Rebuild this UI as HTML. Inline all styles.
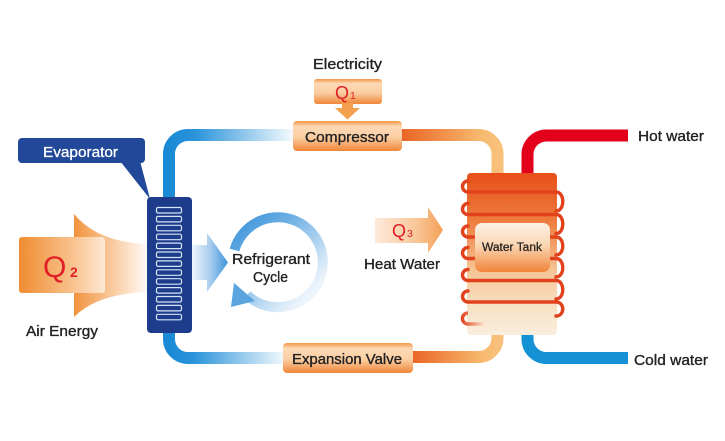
<!DOCTYPE html>
<html><head><meta charset="utf-8"><style>
html,body{margin:0;padding:0;background:#fff;}
svg{display:block;}
text{font-family:"Liberation Sans",sans-serif;}
.lb{font-size:15px;fill:#222;stroke:#222;stroke-width:0.35px;}
</style></head><body>
<svg width="725" height="441" viewBox="0 0 725 441" xmlns="http://www.w3.org/2000/svg">
<defs>
<linearGradient id="gBlueTop" gradientUnits="userSpaceOnUse" x1="169" y1="0" x2="298" y2="0">
<stop offset="0" stop-color="#1a8ad6"/><stop offset="0.2" stop-color="#2a93da"/><stop offset="1" stop-color="#ffffff"/></linearGradient>
<linearGradient id="gBlueBot" gradientUnits="userSpaceOnUse" x1="169" y1="0" x2="290" y2="0">
<stop offset="0" stop-color="#1a8ad6"/><stop offset="0.2" stop-color="#2a93da"/><stop offset="1" stop-color="#ffffff"/></linearGradient>
<linearGradient id="gOrTop" gradientUnits="userSpaceOnUse" x1="402" y1="0" x2="497" y2="0">
<stop offset="0" stop-color="#ea6526"/><stop offset="0.85" stop-color="#f7bb70"/><stop offset="1" stop-color="#f8c07a"/></linearGradient>
<linearGradient id="gOrBot" gradientUnits="userSpaceOnUse" x1="412" y1="0" x2="497" y2="0">
<stop offset="0" stop-color="#ea6526"/><stop offset="0.85" stop-color="#f7bb70"/><stop offset="1" stop-color="#f8c07a"/></linearGradient>
<linearGradient id="gBox" x1="0" y1="0" x2="0" y2="1">
<stop offset="0" stop-color="#f39546"/><stop offset="0.18" stop-color="#fdd9b6"/><stop offset="0.55" stop-color="#fbcea2"/><stop offset="1" stop-color="#f08638"/></linearGradient>
<linearGradient id="gFlare" gradientUnits="userSpaceOnUse" x1="74" y1="0" x2="150" y2="0">
<stop offset="0" stop-color="#f2923c"/><stop offset="0.45" stop-color="#f8c494"/><stop offset="1" stop-color="#ffffff"/></linearGradient>
<linearGradient id="gQ2" x1="0" y1="0" x2="1" y2="0">
<stop offset="0" stop-color="#f08c32"/><stop offset="0.6" stop-color="#f8c08a"/><stop offset="1" stop-color="#fde8d4"/></linearGradient>
<linearGradient id="gQ3" gradientUnits="userSpaceOnUse" x1="375" y1="0" x2="443" y2="0">
<stop offset="0" stop-color="#fdeadb"/><stop offset="0.6" stop-color="#f9c79a"/><stop offset="1" stop-color="#f4a056"/></linearGradient>
<linearGradient id="gBArr" gradientUnits="userSpaceOnUse" x1="192" y1="0" x2="228" y2="0">
<stop offset="0" stop-color="#eef5fc"/><stop offset="0.5" stop-color="#a9cdee"/><stop offset="1" stop-color="#3c93da"/></linearGradient>
<linearGradient id="gRing" gradientUnits="userSpaceOnUse" x1="228" y1="212" x2="328" y2="313">
<stop offset="0" stop-color="#2f8cd7"/><stop offset="0.35" stop-color="#6fb0e4"/><stop offset="0.8" stop-color="#eaf3fb"/><stop offset="1" stop-color="#ffffff"/></linearGradient>
<linearGradient id="gTank" x1="0" y1="0" x2="0" y2="1">
<stop offset="0" stop-color="#e74f18"/><stop offset="0.3" stop-color="#ee7d3e"/><stop offset="0.6" stop-color="#f6c495"/><stop offset="0.82" stop-color="#f8e0c3"/><stop offset="1" stop-color="#faeedd"/></linearGradient>
<linearGradient id="gInner" x1="0" y1="0" x2="0" y2="1">
<stop offset="0" stop-color="#fdf1e4"/><stop offset="0.45" stop-color="#fbd7b4"/><stop offset="1" stop-color="#f0843a"/></linearGradient>
<linearGradient id="gFade" gradientUnits="userSpaceOnUse" x1="462" y1="0" x2="485" y2="0">
<stop offset="0" stop-color="#e2421b"/><stop offset="1" stop-color="#e2421b" stop-opacity="0"/></linearGradient>
</defs>

<!-- pipes -->
<path d="M169,200 V154 A19 19 0 0 1 188 135 H298" fill="none" stroke="url(#gBlueTop)" stroke-width="12"/>
<path d="M169,330 V339 A19 19 0 0 0 188 358 H290" fill="none" stroke="url(#gBlueBot)" stroke-width="12"/>
<path d="M400,135 H478 A19 19 0 0 1 497.5 154 V178" fill="none" stroke="url(#gOrTop)" stroke-width="12"/>
<path d="M497.5,332 V338 A19 19 0 0 1 478 357 H410" fill="none" stroke="url(#gOrBot)" stroke-width="12"/>
<path d="M527.5,178 V154 A19 19 0 0 1 547 135.5 H628" fill="none" stroke="#e2001a" stroke-width="12"/>
<path d="M527.5,332 V339 A19 19 0 0 0 547 358 H628" fill="none" stroke="#1592d6" stroke-width="12"/>

<!-- Q1 -->
<rect x="314" y="79" width="68" height="25" rx="3" fill="url(#gBox)"/>
<rect x="342" y="103" width="11" height="6" fill="#f3a04f"/>
<polygon points="335,108 360,108 347.5,119.5" fill="#f3a04f"/>
<text x="335" y="99" font-size="18" fill="#e01f26">Q</text>
<text x="350" y="99" font-size="10.5" fill="#e01f26">1</text>
<text x="313" y="69" class="lb" font-size="14" textLength="69" lengthAdjust="spacingAndGlyphs">Electricity</text>

<!-- compressor -->
<rect x="293" y="121" width="109" height="30" rx="4" fill="url(#gBox)"/>
<text x="305" y="142" class="lb" textLength="84" lengthAdjust="spacingAndGlyphs">Compressor</text>

<!-- expansion valve -->
<rect x="283" y="343" width="130" height="30" rx="4" fill="url(#gBox)"/>
<text x="292" y="364" class="lb" textLength="110" lengthAdjust="spacingAndGlyphs">Expansion Valve</text>

<!-- evaporator label -->
<rect x="18" y="138" width="127" height="25" rx="4" fill="#22489a"/>
<polygon points="120,161 140,161 150,199" fill="#22489a"/>
<text x="43" y="157" font-size="15" fill="#fff" stroke="#fff" stroke-width="0.3" textLength="75" lengthAdjust="spacingAndGlyphs">Evaporator</text>

<!-- Q2 flare + block -->
<path d="M74,214 Q98,243 150,244 L150,292 Q98,293 74,317 Z" fill="url(#gFlare)"/>
<rect x="19" y="237" width="86" height="56" rx="3" fill="url(#gQ2)"/>
<text x="43" y="277" font-size="30" fill="#e01f26">Q</text>
<text x="70" y="277" font-size="14" font-weight="bold" fill="#e01f26">2</text>
<text x="26" y="336" class="lb" textLength="72" lengthAdjust="spacingAndGlyphs">Air Energy</text>

<!-- evaporator block -->
<rect x="147" y="197" width="45" height="136" rx="4" fill="#1d3d8c"/>
<g fill="none" stroke="#d6e4f6" stroke-width="1.2">
<rect x="156.5" y="207.5" width="25" height="5.5" rx="1.5"/>
<rect x="156.5" y="216.4" width="25" height="5.5" rx="1.5"/>
<rect x="156.5" y="225.3" width="25" height="5.5" rx="1.5"/>
<rect x="156.5" y="234.2" width="25" height="5.5" rx="1.5"/>
<rect x="156.5" y="243.1" width="25" height="5.5" rx="1.5"/>
<rect x="156.5" y="252" width="25" height="5.5" rx="1.5"/>
<rect x="156.5" y="260.9" width="25" height="5.5" rx="1.5"/>
<rect x="156.5" y="269.8" width="25" height="5.5" rx="1.5"/>
<rect x="156.5" y="278.7" width="25" height="5.5" rx="1.5"/>
<rect x="156.5" y="287.6" width="25" height="5.5" rx="1.5"/>
<rect x="156.5" y="296.5" width="25" height="5.5" rx="1.5"/>
<rect x="156.5" y="305.4" width="25" height="5.5" rx="1.5"/>
<rect x="156.5" y="314.3" width="25" height="5.5" rx="1.5"/>
</g>

<!-- blue arrow -->
<path d="M192,245 H207 V233 L228,262.5 L207,292 V280 H192 Z" fill="url(#gBArr)"/>

<!-- refrigerant ring -->
<path d="M234.5,250 A45 45 0 1 1 247,295" fill="none" stroke="url(#gRing)" stroke-width="10"/>
<polygon points="234,283 231,307 255,301" fill="#5aa5e0"/>
<text x="232" y="264" class="lb" textLength="78" lengthAdjust="spacingAndGlyphs">Refrigerant</text>
<text x="253" y="282" class="lb" textLength="35" lengthAdjust="spacingAndGlyphs">Cycle</text>

<!-- Q3 -->
<path d="M375,218 H428 V207 L443,230 L428,253 V243 H375 Z" fill="url(#gQ3)"/>
<text x="392" y="237" font-size="18" fill="#e01f26">Q</text>
<text x="407" y="237" font-size="10.5" fill="#e01f26">3</text>
<text x="364" y="269" class="lb" textLength="76" lengthAdjust="spacingAndGlyphs">Heat Water</text>

<!-- tank -->
<rect x="467" y="173" width="90" height="162" rx="4" fill="url(#gTank)"/>
<g fill="none" stroke="#e2421b" stroke-width="3.4" stroke-linecap="round">
<path d="M468,181 A5.5 5.5 0 0 0 468 192 H556 C565,192 565,211 556,211"/>
<path d="M468,203.5 A5.5 5.5 0 0 0 468 214.5 H556 C565,214.5 565,233.5 556,233.5"/>
<path d="M468,226 A5.5 5.5 0 0 0 468 237 H556 C565,237 565,255 556,255"/>
<path d="M468,247.5 A5.5 5.5 0 0 0 468 258.5 H556 C565,258.5 565,277 556,277"/>
<path d="M468,269.5 A5.5 5.5 0 0 0 468 280.5 H556 C565,280.5 565,299 556,299"/>
<path d="M468,291 A5.5 5.5 0 0 0 468 302 H556 C565,302 565,316 556,316"/>
</g>
<path d="M468,313 A5.5 5.5 0 0 0 468 324 H485" fill="none" stroke="url(#gFade)" stroke-width="3.4"/>
<rect x="475" y="223" width="75" height="49" rx="7" fill="url(#gInner)"/>
<text x="482" y="251" font-size="11.5" fill="#222" stroke="#222" stroke-width="0.25" textLength="60" lengthAdjust="spacingAndGlyphs">Water Tank</text>

<text x="638" y="141" class="lb" textLength="66" lengthAdjust="spacingAndGlyphs">Hot water</text>
<text x="634" y="365" class="lb" textLength="74" lengthAdjust="spacingAndGlyphs">Cold water</text>
</svg>
</body></html>
